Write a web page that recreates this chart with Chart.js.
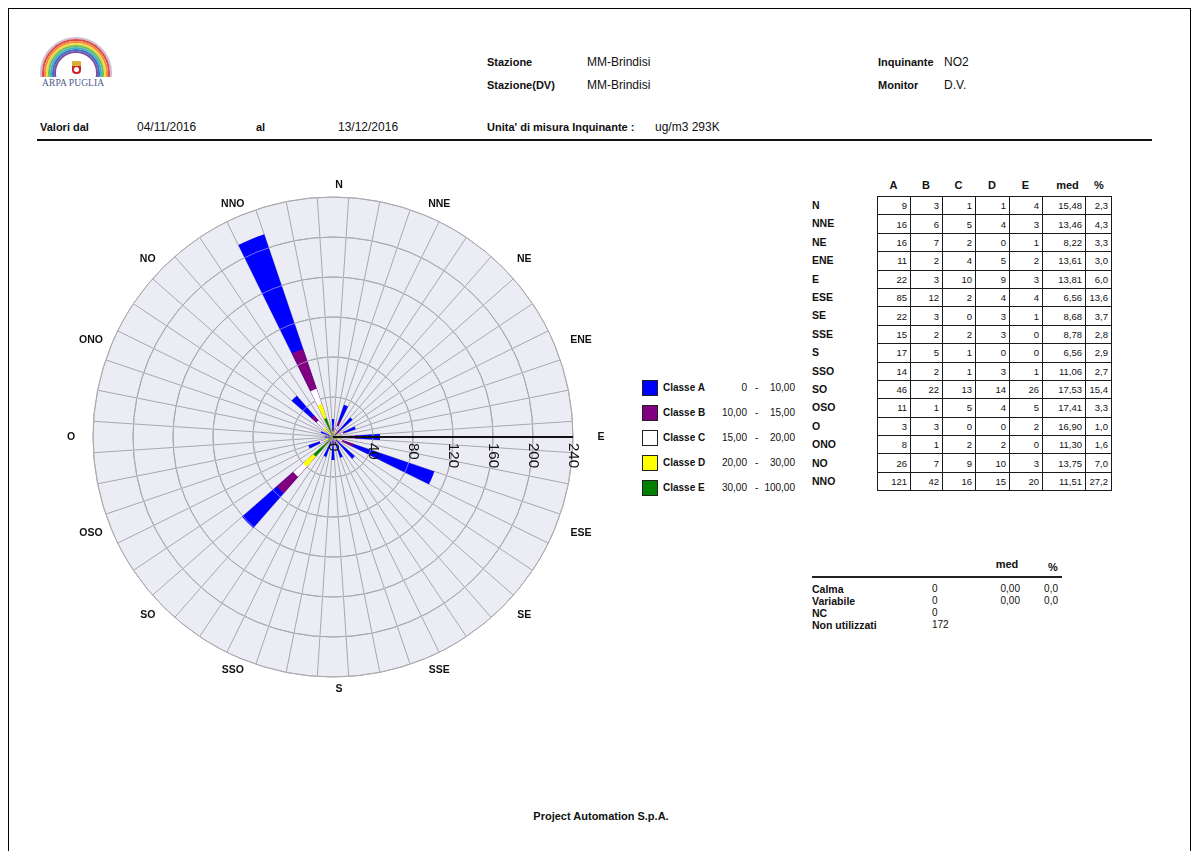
<!DOCTYPE html>
<html lang="it">
<head>
<meta charset="utf-8">
<title>Rosa dei venti NO2 - MM-Brindisi</title>
<script src="https://cdn.jsdelivr.net/npm/chart.js@4.4.1/dist/chart.umd.min.js"></script>
<style>
  html, body { margin: 0; padding: 0; background: #fff; }
  body { width: 1198px; height: 851px; position: relative; overflow: hidden;
         font-family: "Liberation Sans", Arial, Helvetica, sans-serif; color: #111; }
  .t { position: absolute; white-space: nowrap; line-height: 1; }
  .b11 { font-weight: bold; font-size: 11px; }
  .b10 { font-weight: bold; font-size: 10.5px; }
  .r12 { font-size: 12px; }
  .r10 { font-size: 10px; }
  #frame { position: absolute; left: 8px; top: 8px; width: 1181px; height: 860px; border: 1px solid #000; }
  #rule { position: absolute; left: 37px; top: 139px; width: 1115px; height: 2px; background: #111; }
  #logo { position: absolute; left: 40px; top: 37px; width: 72px; height: 40px; overflow: hidden; }
  #logo .ring { position: absolute; border-radius: 50%; border-style: solid; border-width: 2px; box-sizing: border-box; }
  #crest { position: absolute; left: 72px; top: 61px; width: 9px; height: 13px;
           background: linear-gradient(#d9b13a 0 35%, #c8262b 35% 100%); border-radius: 1px 1px 4px 4px; }
  #crest::after { content: ""; position: absolute; left: 2px; top: 6px; width: 5px; height: 5px; border-radius: 50%; background: #fff; }
  #arpa { position: absolute; left: 42px; top: 78px; font-family: "Liberation Serif", "DejaVu Serif", serif;
          font-size: 9.5px; color: #4c5a8e; white-space: nowrap; letter-spacing: 0.1px; }
  #rose { position: absolute; left: 33px; top: 137px; }
  #grid { position: absolute; left: 877px; top: 196px; display: grid;
          grid-template-columns: 33px 32px 33px 34px 33px 43px 26px;
          grid-template-rows: repeat(16, 18.4px);
          border-left: 1px solid #1a1a1a; border-top: 1px solid #1a1a1a; }
  #grid div { border-right: 1px solid #1a1a1a; border-bottom: 1px solid #1a1a1a; box-sizing: border-box;
              font-size: 9.5px; padding-right: 3px; display: flex; align-items: center; justify-content: flex-end; }
  .swatch { position: absolute; width: 16px; height: 16px; box-sizing: border-box; border: 1px solid #222; }
</style>
</head>
<body>
<div id="frame"></div>

<div id="logo"></div>
<div id="crest"></div>
<div id="arpa">ARPA PUGLIA</div>

<div class="t b11" style="left:487px;top:57px">Stazione</div>
<div class="t r12" style="left:587px;top:56px">MM-Brindisi</div>
<div class="t b11" style="left:487px;top:80px">Stazione(DV)</div>
<div class="t r12" style="left:587px;top:79px">MM-Brindisi</div>
<div class="t b11" style="left:878px;top:57px">Inquinante</div>
<div class="t r12" style="left:944px;top:56px">NO2</div>
<div class="t b11" style="left:878px;top:80px">Monitor</div>
<div class="t r12" style="left:944px;top:79px">D.V.</div>

<div class="t b11" style="left:40px;top:122px">Valori dal</div>
<div class="t r12" style="left:137px;top:121px">04/11/2016</div>
<div class="t b11" style="left:256px;top:122px">al</div>
<div class="t r12" style="left:338px;top:121px">13/12/2016</div>
<div class="t b11" style="left:487px;top:122px">Unita' di misura Inquinante :</div>
<div class="t r12" style="left:655px;top:121px">ug/m3 293K</div>
<div id="rule"></div>

<canvas id="rose" width="600" height="600"></canvas>

<div id="legend"></div>
<div id="tableHead"></div>
<div id="rowLabels"></div>
<div id="grid"></div>
<div id="summary"></div>

<div class="t b11" style="left:0;width:1202px;text-align:center;top:811px">Project Automation S.p.A.</div>

<script>
// Wind sectors and frequency counts per concentration class
const directions = ['N','NNE','NE','ENE','E','ESE','SE','SSE','S','SSO','SO','OSO','O','ONO','NO','NNO'];
const classA = [9, 16, 16, 11, 22, 85, 22, 15, 17, 14, 46, 11, 3, 8, 26, 121];
const classB = [3, 6, 7, 2, 3, 12, 3, 2, 5, 2, 22, 1, 3, 1, 7, 42];
const classC = [1, 5, 2, 4, 10, 2, 0, 2, 1, 1, 13, 5, 0, 2, 9, 16];
const classD = [1, 4, 0, 5, 9, 4, 3, 3, 0, 3, 14, 4, 0, 2, 10, 15];
const classE = [4, 3, 1, 2, 3, 4, 1, 0, 0, 1, 26, 5, 2, 0, 3, 20];
const sectorMean = [15.48, 13.46, 8.22, 13.61, 13.81, 6.56, 8.68, 8.78, 6.56, 11.06, 17.53, 17.41, 16.90, 11.30, 13.75, 11.51];
const sectorPct = [2.3, 4.3, 3.3, 3.0, 6.0, 13.6, 3.7, 2.8, 2.9, 2.7, 15.4, 3.3, 1.0, 1.6, 7.0, 27.2];

// Concentration classes (ug/m3)
const classNames = ['Classe A', 'Classe B', 'Classe C', 'Classe D', 'Classe E'];
const classFrom = ['0', '10,00', '15,00', '20,00', '30,00'];
const classTo = ['10,00', '15,00', '20,00', '30,00', '100,00'];

// Radial axis ticks
const radialMax = 240;
const radialStep = 40;

// Calm / variable / unclassified records
const summaryLabels = ['Calma', 'Variabile', 'NC', 'Non utilizzati'];
const summaryCounts = [0, 0, 0, 172];
const summaryMean = ['0,00', '0,00', '', ''];
const summaryPct = ['0,0', '0,0', '', ''];

const classColors = ['#0000ff', '#800080', '#ffffff', '#ffff00', '#008000'];
const fmt = (v, d) => v.toFixed(d).replace('.', ',');

// ---------- logo rainbow ----------
const rainbow = ['#cbbfd8', '#e2454a', '#ef8f37', '#f1d84c', '#74bf4e', '#41b3c3', '#3c70c2', '#7b4f9f'];
const logo = document.getElementById('logo');
rainbow.forEach((c, i) => {
  const d = document.createElement('div');
  d.className = 'ring';
  const size = 72 - i * 4;
  Object.assign(d.style, { left: (i * 2) + 'px', top: (i * 2) + 'px', width: size + 'px', height: size + 'px', borderColor: c });
  logo.appendChild(d);
});

// ---------- rose (stacked polar wedges) ----------
// every compass sector is split in three sub-sectors; the wedge sits in the middle one
const sectorLabels = directions.flatMap(d => [d, '', '']);
const stackOrder = [classE, classD, classC, classB, classA];
const stackColors = [classColors[4], classColors[3], classColors[2], classColors[1], classColors[0]];
const stackNames = [classNames[4], classNames[3], classNames[2], classNames[1], classNames[0]];
let running = directions.map(() => 0);
const datasets = stackOrder.map((vals, j) => {
  running = running.map((v, k) => v + vals[k]);
  return {
    label: stackNames[j],
    data: running.flatMap(v => [v, 0, 0]),
    backgroundColor: stackColors[j],
    borderWidth: 0
  };
});

const roseOverlay = {
  id: 'roseOverlay',
  afterDatasetsDraw(chart) {
    const s = chart.scales.r;
    const ctx = chart.ctx;
    const half = Math.PI / sectorLabels.length;
    const eIdx = directions.indexOf('E') * 3;
    ctx.save();
    // light veil of the rings over the wedges
    ctx.strokeStyle = 'rgba(255,255,255,0.45)';
    ctx.lineWidth = 1;
    s.ticks.forEach(t => {
      const r = s.getDistanceFromCenterForValue(t.value);
      if (r <= 0) return;
      ctx.beginPath();
      ctx.arc(s.xCenter, s.yCenter, r, 0, Math.PI * 2);
      ctx.stroke();
    });
    // radial axis along E
    const end = s.getPointPosition(eIdx, s.getDistanceFromCenterForValue(s.max), half);
    ctx.strokeStyle = '#111';
    ctx.lineWidth = 2;
    ctx.beginPath();
    ctx.moveTo(s.xCenter, s.yCenter);
    ctx.lineTo(end.x, end.y);
    ctx.stroke();
    // tick values written downwards under the axis
    ctx.fillStyle = '#111';
    ctx.font = '15px "Liberation Sans", Arial, sans-serif';
    ctx.textAlign = 'left';
    ctx.textBaseline = 'middle';
    s.ticks.forEach(t => {
      const p = s.getPointPosition(eIdx, s.getDistanceFromCenterForValue(t.value), half);
      ctx.save();
      ctx.translate(p.x, p.y + 6);
      ctx.rotate(Math.PI / 2);
      ctx.fillText(t.label !== undefined ? t.label : String(t.value), 0, 0);
      ctx.restore();
    });
    // compass labels
    ctx.font = 'bold 10.5px "Liberation Sans", Arial, sans-serif';
    ctx.textAlign = 'center';
    directions.forEach((d, k) => {
      const px = s.getPointPosition(k * 3, s.drawingArea + 22, half).x;
      const py = s.getPointPosition(k * 3, s.drawingArea + 12, half).y;
      ctx.fillText(d, px + (px >= s.xCenter - 0.5 ? 6 : 0), py);
    });
    ctx.restore();
  }
};

new Chart(document.getElementById('rose'), {
  type: 'polarArea',
  data: { labels: sectorLabels, datasets },
  options: {
    responsive: false,
    animation: false,
    events: [],
    layout: { padding: 60 },
    plugins: { legend: { display: false }, tooltip: { enabled: false } },
    scales: {
      r: {
        min: 0,
        max: radialMax,
        startAngle: -180 / sectorLabels.length,
        backgroundColor: '#ececf4',
        grid: { circular: true, color: '#61616b', lineWidth: 1 },
        angleLines: { display: true, color: '#a8a8b2', lineWidth: 1 },
        ticks: { display: false, stepSize: radialStep },
        pointLabels: { display: false }
      }
    }
  },
  plugins: [roseOverlay]
});

// ---------- legend ----------
const legend = document.getElementById('legend');
classNames.forEach((name, j) => {
  const y = 388 + j * 25;
  legend.insertAdjacentHTML('beforeend',
    `<div class="swatch" style="left:642px;top:${y - 8}px;background:${classColors[j]}"></div>` +
    `<div class="t b10" style="left:663px;top:${y - 5}px;font-size:10px">${name}</div>` +
    `<div class="t r10" style="left:697px;width:50px;text-align:right;top:${y - 5}px">${classFrom[j]}</div>` +
    `<div class="t r10" style="left:755px;top:${y - 5}px">-</div>` +
    `<div class="t r10" style="left:755px;width:40px;text-align:right;top:${y - 5}px">${classTo[j]}</div>`);
});

// ---------- frequency table ----------
const colWidths = [33, 32, 33, 34, 33, 43, 26];
const colHeads = ['A', 'B', 'C', 'D', 'E', 'med', '%'];
const headShift = [0, 0, 0, 0, 0, 4, 1];
const head = document.getElementById('tableHead');
let x = 877;
colHeads.forEach((h, i) => {
  head.insertAdjacentHTML('beforeend',
    `<div class="t b11" style="left:${x + headShift[i]}px;width:${colWidths[i]}px;text-align:center;top:180px">${h}</div>`);
  x += colWidths[i];
});
const rowH = 18.4;
const rowLabels = document.getElementById('rowLabels');
const grid = document.getElementById('grid');
directions.forEach((d, k) => {
  const yc = 196 + rowH * (k + 0.5);
  rowLabels.insertAdjacentHTML('beforeend',
    `<div class="t b10" style="left:812px;top:${(yc - 5.2).toFixed(1)}px">${d}</div>`);
  const cells = [classA[k], classB[k], classC[k], classD[k], classE[k], fmt(sectorMean[k], 2), fmt(sectorPct[k], 1)];
  cells.forEach(c => grid.insertAdjacentHTML('beforeend', `<div>${c}</div>`));
});

// ---------- calm / variable summary ----------
const summary = document.getElementById('summary');
summary.insertAdjacentHTML('beforeend',
  `<div class="t b11" style="left:987px;width:40px;text-align:center;top:559px">med</div>` +
  `<div class="t b11" style="left:1043px;width:20px;text-align:center;top:562px">%</div>` +
  `<div style="position:absolute;left:812px;top:576px;width:250px;height:2px;background:#222"></div>`);
summaryLabels.forEach((lab, i) => {
  const y = 589 + i * 12;
  summary.insertAdjacentHTML('beforeend',
    `<div class="t b10" style="left:812px;top:${(y - 5.2).toFixed(1)}px">${lab}</div>` +
    `<div class="t r10" style="left:932px;top:${(y - 5).toFixed(1)}px">${summaryCounts[i]}</div>` +
    `<div class="t r10" style="left:970px;width:50px;text-align:right;top:${(y - 5).toFixed(1)}px">${summaryMean[i]}</div>` +
    `<div class="t r10" style="left:1028px;width:30px;text-align:right;top:${(y - 5).toFixed(1)}px">${summaryPct[i]}</div>`);
});
</script>
</body>
</html>
